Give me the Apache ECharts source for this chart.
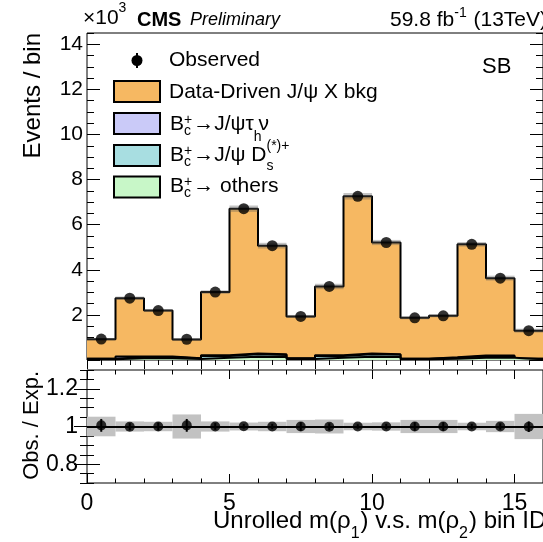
<!DOCTYPE html>
<html>
<head>
<meta charset="utf-8">
<script src="https://cdn.jsdelivr.net/npm/echarts@6/dist/echarts.min.js"></script>
<style>
  html, body { margin: 0; padding: 0; background: #fff; }
  #chart { width: 543px; height: 542px; }
</style>
</head>
<body>
<div id="chart"></div>
<script>
// Unrolled m(rho1) vs m(rho2) bins, sideband region (events in units of 10^3)
const binIds = [0, 1, 2, 3, 4, 5, 6, 7, 8, 9, 10, 11, 12, 13, 14, 15];
const observed      = [0.93, 2.74, 2.19, 0.92, 3.01, 6.71, 5.07, 1.93, 3.26, 7.26, 5.21, 1.87, 1.96, 5.13, 3.63, 1.30];
const bkgDataDriven = [0.86, 2.59, 2.04, 0.83, 2.80, 6.42, 4.82, 1.85, 3.05, 6.97, 4.95, 1.81, 1.84, 4.93, 3.43, 1.24];
const sigTauNu      = [0.01, 0.02, 0.02, 0.01, 0.03, 0.04, 0.03, 0.01, 0.03, 0.04, 0.03, 0.01, 0.02, 0.03, 0.03, 0.01];
const bkgDs         = [0.02, 0.05, 0.05, 0.03, 0.08, 0.11, 0.09, 0.03, 0.08, 0.11, 0.10, 0.02, 0.04, 0.07, 0.07, 0.02];
const bkgOthers     = [0.03, 0.08, 0.08, 0.04, 0.10, 0.14, 0.13, 0.04, 0.10, 0.14, 0.13, 0.03, 0.06, 0.10, 0.10, 0.03];
// relative uncertainty of the expectation
const relUnc        = [0.052, 0.027, 0.025, 0.064, 0.027, 0.021, 0.025, 0.035, 0.037, 0.020, 0.022, 0.035, 0.035, 0.020, 0.030, 0.067];
// observed / expected and its statistical error
const ratioObsExp   = [1.006, 0.999, 1.000, 1.006, 1.000, 1.001, 1.000, 1.000, 0.999, 1.000, 1.000, 1.000, 1.000, 1.000, 1.000, 0.999];
const ratioErr      = [0.034, 0.019, 0.021, 0.034, 0.018, 0.012, 0.014, 0.023, 0.018, 0.012, 0.014, 0.023, 0.023, 0.014, 0.017, 0.028];

const yTicksTop = [0, 2, 4, 6, 8, 10, 12, 14];
const yLabelsTop = [2, 4, 6, 8, 10, 12, 14];
const yTicksRatio = [0.8, 1, 1.2];
const xTicksRatio = [0, 5, 10, 15];

const xMin = 0, xMax = 16;
const yMaxTop = 14.5;
const yMinRatio = 0.7, yMaxRatio = 1.3;

const FONT = 'Liberation Sans';
const COL_DD = '#F6B862';
const COL_TAU = '#CACAF8';
const COL_DS = '#A8DEE1';
const COL_OTH = '#C8F7C8';

// cumulative stacks, bottom to top
const stackOthers = bkgOthers.slice();
const stackDs = binIds.map((_, i) => stackOthers[i] + bkgDs[i]);
const stackTau = binIds.map((_, i) => stackDs[i] + sigTauNu[i]);
const stackTotal = binIds.map((_, i) => stackTau[i] + bkgDataDriven[i]);

// points at bin low edges plus closing edge, drawn with step 'end'
function stepData(vals) {
  const d = binIds.map((b, i) => [b, vals[i]]);
  d.push([binIds[binIds.length - 1] + 1, vals[vals.length - 1]]);
  return d;
}

function stackSeries(name, vals, color, z) {
  return {
    type: 'line', name, xAxisIndex: 0, yAxisIndex: 0,
    data: stepData(vals), step: 'end', symbol: 'none', showSymbol: false,
    lineStyle: { color: '#000', width: 2 },
    areaStyle: { color, opacity: 1, origin: 'start' },
    z, silent: true, animation: false
  };
}

function bandSeries(xi, yi, center, fill, z) {
  return {
    type: 'custom', xAxisIndex: xi, yAxisIndex: yi, z, silent: true,
    data: binIds.map((b, i) => [b, center[i], relUnc[i]]),
    renderItem: (params, api) => {
      const x = api.value(0), c = api.value(1), e = api.value(2);
      const p0 = api.coord([x, c * (1 + e)]);
      const p1 = api.coord([x + 1, c * (1 - e)]);
      return { type: 'rect', shape: { x: p0[0], y: p0[1], width: p1[0] - p0[0], height: p1[1] - p0[1] },
               style: { fill } };
    }
  };
}

const ones = binIds.map(() => 1);

// ---- axes ----
const tickLine = { color: '#000', width: 1 };
function vAxis(o) {
  return Object.assign({
    type: 'value', axisLine: { show: false }, splitLine: { show: false },
    axisLabel: { show: false }, axisTick: { show: false }, minorTick: { show: false }
  }, o);
}
const xAxes = [
  // upper panel, bottom and top
  vAxis({ gridIndex: 0, position: 'bottom', min: xMin, max: xMax, interval: 2,
          axisTick: { show: true, inside: true, length: 9, lineStyle: tickLine },
          minorTick: { show: true, splitNumber: 4, length: 5, lineStyle: tickLine } }),
  vAxis({ gridIndex: 0, position: 'top', min: xMin, max: xMax, interval: 2,
          axisTick: { show: true, inside: true, length: 9, lineStyle: tickLine },
          minorTick: { show: true, splitNumber: 4, length: 5, lineStyle: tickLine } }),
  // ratio panel
  vAxis({ gridIndex: 1, position: 'bottom', min: xMin, max: xMax, interval: 1,
          axisTick: { show: true, inside: true, length: 4.5, lineStyle: tickLine },
          axisLabel: { show: true, customValues: xTicksRatio, fontSize: 23, margin: 9, color: '#000', fontFamily: FONT } }),
  vAxis({ gridIndex: 1, position: 'bottom', min: xMin, max: xMax,
          axisTick: { show: true, inside: true, length: 9, customValues: xTicksRatio, lineStyle: tickLine } }),
  vAxis({ gridIndex: 1, position: 'top', min: xMin, max: xMax, interval: 1,
          axisTick: { show: true, inside: true, length: 4.5, lineStyle: tickLine } }),
  vAxis({ gridIndex: 1, position: 'top', min: xMin, max: xMax,
          axisTick: { show: true, inside: true, length: 9, customValues: xTicksRatio, lineStyle: tickLine } })
];

const ratioMinor = [];
for (let k = 14; k <= 26; k++) ratioMinor.push(Math.round(k * 5) / 100);

const yAxes = [
  vAxis({ gridIndex: 0, position: 'left', min: 0, max: yMaxTop,
          axisTick: { show: true, inside: true, length: 13, customValues: yTicksTop, lineStyle: tickLine },
          axisLabel: { show: true, customValues: yLabelsTop, fontSize: 21, margin: 4, color: '#000', fontFamily: FONT } }),
  vAxis({ gridIndex: 0, position: 'left', min: 0, max: yMaxTop, interval: 0.5,
          axisTick: { show: true, inside: true, length: 7, lineStyle: tickLine } }),
  vAxis({ gridIndex: 0, position: 'right', min: 0, max: yMaxTop,
          axisTick: { show: true, inside: true, length: 13, customValues: yTicksTop, lineStyle: tickLine } }),
  vAxis({ gridIndex: 0, position: 'right', min: 0, max: yMaxTop, interval: 0.5,
          axisTick: { show: true, inside: true, length: 7, lineStyle: tickLine } }),
  vAxis({ gridIndex: 1, position: 'left', min: yMinRatio, max: yMaxRatio,
          axisTick: { show: true, inside: true, length: 13, customValues: yTicksRatio, lineStyle: tickLine },
          axisLabel: { show: true, customValues: yTicksRatio, fontSize: 23, margin: 9, color: '#000', fontFamily: FONT,
                       formatter: v => (Math.abs(v - 1) < 1e-9 ? '1' : v.toFixed(1)) } }),
  vAxis({ gridIndex: 1, position: 'left', min: yMinRatio, max: yMaxRatio,
          axisTick: { show: true, inside: true, length: 7, customValues: ratioMinor, lineStyle: tickLine } }),
  vAxis({ gridIndex: 1, position: 'right', min: yMinRatio, max: yMaxRatio,
          axisTick: { show: true, inside: true, length: 13, customValues: yTicksRatio, lineStyle: tickLine } }),
  vAxis({ gridIndex: 1, position: 'right', min: yMinRatio, max: yMaxRatio,
          axisTick: { show: true, inside: true, length: 7, customValues: ratioMinor, lineStyle: tickLine } })
];

// ---- text helpers ----
const mctx = document.createElement('canvas').getContext('2d');
function textWidth(t, size, weight, style) {
  mctx.font = `${style || 'normal'} ${weight || 'normal'} ${size}px "${FONT}"`;
  return mctx.measureText(t).width;
}
function T(x, y, text, size, extra) {
  return Object.assign({
    type: 'text', x, y, silent: true, z: 100,
    style: Object.assign({ text, fontSize: size, fontFamily: FONT, fill: '#000',
                           align: 'left', verticalAlign: 'middle' }, extra || {})
  });
}
// lays out a line of text pieces; pieces may be raised, lowered, or a stacked sup/sub pair
function textRun(x, y, size, pieces) {
  const out = [];
  let cx = x;
  for (const p of pieces) {
    if (p.stack) {
      const s = p.size || 14;
      out.push(T(cx, y + p.up, p.stack[0], s));
      out.push(T(cx, y + p.dn, p.stack[1], s));
      cx += Math.max(textWidth(p.stack[0], s), textWidth(p.stack[1], s)) + (p.gap || 0);
    } else {
      const s = p.size || size;
      out.push(T(cx, y + (p.dy || 0), p.t, s));
      cx += textWidth(p.t, s) + (p.gap || 0);
    }
  }
  return out;
}

const LX = 169;     // legend text column
const graphics = [];
// header
graphics.push(...textRun(83, 18, 21, [{ t: '×10' }, { t: '3', size: 14, dy: -10 }]));
graphics.push(T(137, 20, 'CMS', 20, { fontWeight: 'bold' }));
graphics.push(T(190, 20, 'Preliminary', 18, { fontStyle: 'italic' }));
graphics.push(...textRun(390, 20, 21, [{ t: '59.8 fb' }, { t: '-1', size: 14, dy: -7, gap: 1 }, { t: ' (13TeV)' }]));
graphics.push(T(482, 67, 'SB', 22));

// legend
graphics.push({ type: 'line', silent: true, z: 100, shape: { x1: 137, y1: 53, x2: 137, y2: 68 }, style: { stroke: '#000', lineWidth: 2 } });
graphics.push({ type: 'circle', silent: true, z: 100, shape: { cx: 137, cy: 60.5, r: 5.5 }, style: { fill: '#000' } });
graphics.push(T(LX, 60, 'Observed', 21));
const boxes = [[81, COL_DD], [113, COL_TAU], [145, COL_DS], [176.5, COL_OTH]];
for (const [yTop, c] of boxes) {
  graphics.push({ type: 'rect', silent: true, z: 100, shape: { x: 114, y: yTop, width: 46, height: 21 },
                  style: { fill: c, stroke: '#000', lineWidth: 2 } });
}
graphics.push(T(LX, 92, 'Data-Driven J/ψ X bkg', 21));
const bc = { stack: ['+', 'c'], up: -4, dn: 6.5, size: 14, gap: 1 };
graphics.push(...textRun(170, 124.5, 21, [{ t: 'B' }, bc, { t: '→J/ψτ' }, { t: 'h', size: 14, dy: 13, gap: -3 }, { t: 'ν' }]));
graphics.push(...textRun(170, 155.5, 21, [{ t: 'B' }, bc, { t: '→J/ψ D' }, { stack: ['(*)+', 's'], up: -9.5, dn: 10.5, size: 14 }]));
graphics.push(...textRun(170, 186.5, 21, [{ t: 'B' }, bc, { t: '→ others' }]));

// axis titles
graphics.push(T(33, 33, 'Events / bin', 24, { align: 'right' }));
graphics[graphics.length - 1].rotation = Math.PI / 2;
graphics.push(T(32, 371, 'Obs. / Exp.', 22, { align: 'right' }));
graphics[graphics.length - 1].rotation = Math.PI / 2;
graphics.push(...textRun(213, 521, 24, [
  { t: 'Unrolled m(ρ' }, { t: '1', size: 16, dy: 13, gap: 1 }, { t: ') v.s. m(ρ' }, { t: '2', size: 16, dy: 13, gap: 1 }, { t: ') bin ID' }
]));

const option = {
  animation: false,
  backgroundColor: '#fff',
  textStyle: { fontFamily: FONT },
  grid: [
    { left: 87, top: 33, width: 460, height: 327, show: true, borderColor: '#000', borderWidth: 1, backgroundColor: 'transparent' },
    { left: 87, top: 370, width: 460, height: 113, show: true, borderColor: '#000', borderWidth: 1, backgroundColor: 'transparent' }
  ],
  xAxis: xAxes,
  yAxis: yAxes,
  series: [
    stackSeries('Data-Driven J/ψ X bkg', stackTotal, COL_DD, 2),
    stackSeries('Bc→J/ψτν', stackTau, COL_TAU, 3),
    stackSeries('Bc→J/ψDs', stackDs, COL_DS, 4),
    stackSeries('Bc→others', stackOthers, COL_OTH, 5),
    bandSeries(0, 0, stackTotal, 'rgba(90,90,90,0.35)', 6),
    {
      type: 'scatter', name: 'Observed', xAxisIndex: 0, yAxisIndex: 0, z: 10, silent: true,
      data: binIds.map((b, i) => [b + 0.5, observed[i]]),
      symbol: 'circle', symbolSize: 11, itemStyle: { color: '#000' }
    },
    bandSeries(2, 4, ones, '#c2c2c2', 2),
    {
      type: 'custom', xAxisIndex: 2, yAxisIndex: 4, z: 8, silent: true,
      data: binIds.map((b, i) => [b + 0.5, ratioObsExp[i], ratioErr[i]]),
      renderItem: (params, api) => {
        const x = api.value(0), r = api.value(1), e = api.value(2);
        const p0 = api.coord([x, r + e]);
        const p1 = api.coord([x, r - e]);
        return { type: 'line', shape: { x1: p0[0], y1: p0[1], x2: p1[0], y2: p1[1] },
                 style: { stroke: '#000', lineWidth: 2 } };
      }
    },
    {
      type: 'scatter', name: 'ratio', xAxisIndex: 2, yAxisIndex: 4, z: 10, silent: true,
      data: binIds.map((b, i) => [b + 0.5, ratioObsExp[i]]),
      symbol: 'circle', symbolSize: 10, itemStyle: { color: '#000' },
      markLine: {
        silent: true, symbol: 'none', label: { show: false }, animation: false,
        lineStyle: { color: '#000', width: 2, type: 'solid' },
        data: [{ yAxis: 1 }]
      }
    }
  ],
  graphic: graphics
};

const chart = echarts.init(document.getElementById('chart'), null, { renderer: 'canvas' });
chart.setOption(option);
</script>
</body>
</html>
